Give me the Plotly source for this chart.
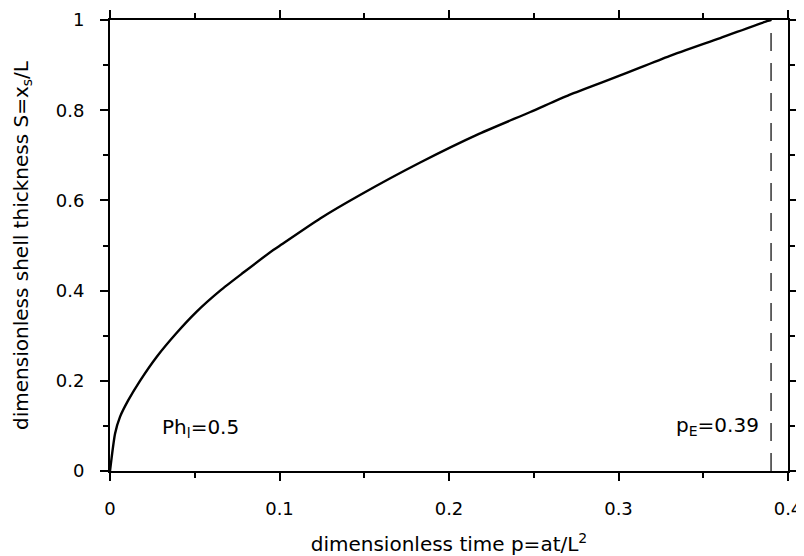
import plotly.graph_objects as go

# Data
p_vals = [0.0, 0.003, 0.0059, 0.0108, 0.0177, 0.0275, 0.039, 0.051, 0.065, 0.0787,
          0.0963, 0.1003, 0.124, 0.1475, 0.183, 0.218, 0.248, 0.271, 0.301, 0.330,
          0.360, 0.388, 0.39]
s_vals = [0.0, 0.083, 0.12, 0.157, 0.2, 0.253, 0.305, 0.353, 0.40, 0.44,
          0.49, 0.50, 0.56, 0.612, 0.684, 0.748, 0.796, 0.834, 0.877, 0.920,
          0.960, 0.998, 1.0]
p_end = 0.39
dash_p = [p_end, p_end]
dash_s = [0.0, 1.0]

x_ticks = [0, 0.1, 0.2, 0.3, 0.4]
x_tick_labels = ["0", "0.1", "0.2", "0.3", "0.4"]
y_ticks = [0, 0.2, 0.4, 0.6, 0.8, 1]
y_tick_labels = ["0", "0.2", "0.4", "0.6", "0.8", "1"]

font_family = "DejaVu Sans, Arial, Helvetica, sans-serif"

fig = go.Figure()
fig.add_trace(go.Scatter(x=p_vals, y=s_vals, mode="lines", line_shape="spline",
                         line=dict(color="black", width=2.4, smoothing=0.6),
                         showlegend=False))
fig.add_trace(go.Scatter(x=dash_p, y=dash_s, mode="lines",
                         line=dict(color="black", width=1.2, dash="18px,12px"),
                         showlegend=False))

fig.add_annotation(x=0.0295, y=0.095, text="Ph<sub>l</sub>=0.5", showarrow=False,
                   xanchor="left", yanchor="middle",
                   font=dict(family=font_family, size=20, color="black"))
fig.add_annotation(x=0.3838, y=0.1, text="p<sub>E</sub>=0.39", showarrow=False,
                   xanchor="right", yanchor="middle",
                   font=dict(family=font_family, size=20, color="black"))

axis_common = dict(
    showline=True, linecolor="black", linewidth=2, mirror="allticks",
    ticks="outside", ticklen=8, tickwidth=1.5, tickcolor="black",
    showgrid=False, zeroline=False, automargin=False,
    tickfont=dict(family=font_family, size=18, color="black"),
)

fig.update_xaxes(range=[0, 0.4], tickvals=x_ticks, ticktext=x_tick_labels,
                 ticklabelstandoff=12,
                 minor=dict(dtick=0.05, ticks="outside", ticklen=5, tickwidth=1.5,
                            tickcolor="black", showgrid=False),
                 title=dict(text="dimensionless time p=at/L<sup>2</sup>",
                            font=dict(family=font_family, size=20, color="black"),
                            standoff=20),
                 **axis_common)
fig.update_yaxes(range=[0, 1], tickvals=y_ticks, ticktext=y_tick_labels,
                 ticklabelstandoff=12,
                 minor=dict(dtick=0.1, ticks="outside", ticklen=5, tickwidth=1.5,
                            tickcolor="black", showgrid=False),
                 title=dict(text="dimensionless shell thickness S=x<sub>s</sub>/L",
                            font=dict(family=font_family, size=20, color="black"),
                            standoff=22),
                 **axis_common)

fig.update_layout(width=796, height=548, plot_bgcolor="white", paper_bgcolor="white",
                  margin=dict(l=102, r=16, t=12, b=85, autoexpand=False),
                  font=dict(family=font_family, color="black"))

fig.write_html("out.html")
